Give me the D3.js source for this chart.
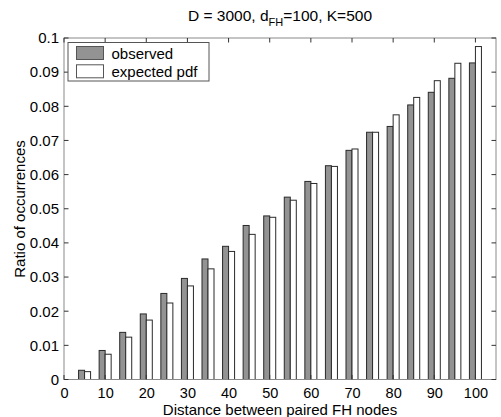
<!DOCTYPE html>
<html>
<head>
<meta charset="utf-8">
<script src="https://cdn.jsdelivr.net/npm/d3@7"></script>
<style>
  html, body { margin: 0; padding: 0; background: #fff; }
  svg { display: block; font-family: "Liberation Sans", Arial, sans-serif; }
</style>
</head>
<body>
<svg id="chart" width="501" height="417"></svg>
<script>
const distances = [5,10,15,20,25,30,35,40,45,50,55,60,65,70,75,80,85,90,95,100];
const observed = [0.0027,0.0085,0.0138,0.0192,0.0252,0.0296,0.0353,0.0390,0.0451,0.0479,
                  0.0534,0.0580,0.0626,0.0671,0.0724,0.0741,0.0804,0.0841,0.0882,0.0927];
const expected = [0.0023,0.0074,0.0124,0.0174,0.0224,0.0274,0.0324,0.0375,0.0425,0.0475,
                  0.0525,0.0574,0.0624,0.0675,0.0724,0.0775,0.0826,0.0875,0.0926,0.0975];
const seriesNames = ["observed", "expected pdf"];
const xTicks = [0,10,20,30,40,50,60,70,80,90,100];
const yTicks = [0,0.01,0.02,0.03,0.04,0.05,0.06,0.07,0.08,0.09,0.1];
const yTickLabels = ["0","0.01","0.02","0.03","0.04","0.05","0.06","0.07","0.08","0.09","0.1"];

const svg = d3.select("#chart");
const L = 64, R = 496, T = 38, B = 379.5;
const x = d3.scaleLinear().domain([0, 105]).range([L, R]);
const y = d3.scaleLinear().domain([0, 0.1]).range([B, T]);
const fills = ["#939393", "#ffffff"];
const barW = 1.46; // data units per bar
const FS = 15;

// bars
const series = [observed, expected];
series.forEach((vals, si) => {
  svg.append("g").selectAll("rect").data(vals).enter().append("rect")
    .attr("x", (d, i) => x(distances[i] + (si - 1) * barW))
    .attr("width", x(barW) - x(0))
    .attr("y", d => y(d))
    .attr("height", d => y(0) - y(d))
    .attr("fill", fills[si])
    .attr("stroke", "#2a2a2a")
    .attr("stroke-width", 1);
});

// axes box
const axisColor = "#8a8a8a";
svg.append("rect").attr("x", L).attr("y", T).attr("width", R - L).attr("height", B - T)
  .attr("fill", "none").attr("stroke", axisColor).attr("stroke-width", 1);

// ticks (inward, on all four sides)
const tl = 4.5;
const axB = d3.axisBottom(x).tickValues(xTicks).tickSize(0).tickFormat(d3.format("d"));
const gB = svg.append("g").attr("transform", `translate(0,${B})`).call(axB);
gB.select(".domain").remove();
gB.selectAll("text").attr("font-size", 14.5).attr("fill", "#000")
  .attr("font-family", "Liberation Sans, Arial, sans-serif")
  .attr("y", 18).attr("dy", null);

const axL = d3.axisLeft(y).tickValues(yTicks).tickSize(0).tickPadding(5).tickFormat((d, i) => yTickLabels[i]);
const gL = svg.append("g").attr("transform", `translate(${L},0)`).call(axL);
gL.select(".domain").remove();
gL.selectAll("text").attr("font-size", FS).attr("fill", "#000").attr("font-family", "Liberation Sans, Arial, sans-serif");

const tickG = svg.append("g").attr("stroke", "#333").attr("stroke-width", 1);
xTicks.forEach(t => {
  tickG.append("line").attr("x1", x(t)).attr("x2", x(t)).attr("y1", B).attr("y2", B - tl);
  tickG.append("line").attr("x1", x(t)).attr("x2", x(t)).attr("y1", T).attr("y2", T + tl);
});
yTicks.forEach(t => {
  tickG.append("line").attr("x1", L).attr("x2", L + tl).attr("y1", y(t)).attr("y2", y(t));
  tickG.append("line").attr("x1", R).attr("x2", R - tl).attr("y1", y(t)).attr("y2", y(t));
});

// title
const title = svg.append("text").attr("x", 280).attr("y", 21).attr("text-anchor", "middle")
  .attr("font-size", 15.5).attr("fill", "#000");
title.append("tspan").text("D = 3000, d");
title.append("tspan").attr("font-size", 11).attr("dy", 5).text("FH");
title.append("tspan").attr("dy", -5).text("=100, K=500");

// axis labels
svg.append("text").attr("x", 280).attr("y", 414.5).attr("text-anchor", "middle")
  .attr("font-size", FS).attr("fill", "#000").text("Distance between paired FH nodes");
svg.append("text").attr("transform", "translate(25,209) rotate(-90)").attr("text-anchor", "middle")
  .attr("font-size", FS).attr("fill", "#000").text("Ratio of occurrences");

// legend
const lg = svg.append("g");
lg.append("rect").attr("x", 68).attr("y", 42.5).attr("width", 141).attr("height", 38.5)
  .attr("fill", "#fff").attr("stroke", "#555").attr("stroke-width", 1);
seriesNames.forEach((name, i) => {
  const yy = 46.5 + i * 18.3;
  lg.append("rect").attr("x", 76.5).attr("y", yy).attr("width", 27).attr("height", 13)
    .attr("fill", fills[i]).attr("stroke", "#555").attr("stroke-width", 1);
  lg.append("text").attr("x", 111.5).attr("y", yy + 12).attr("font-size", FS).attr("fill", "#000").text(name);
});
</script>
</body>
</html>
